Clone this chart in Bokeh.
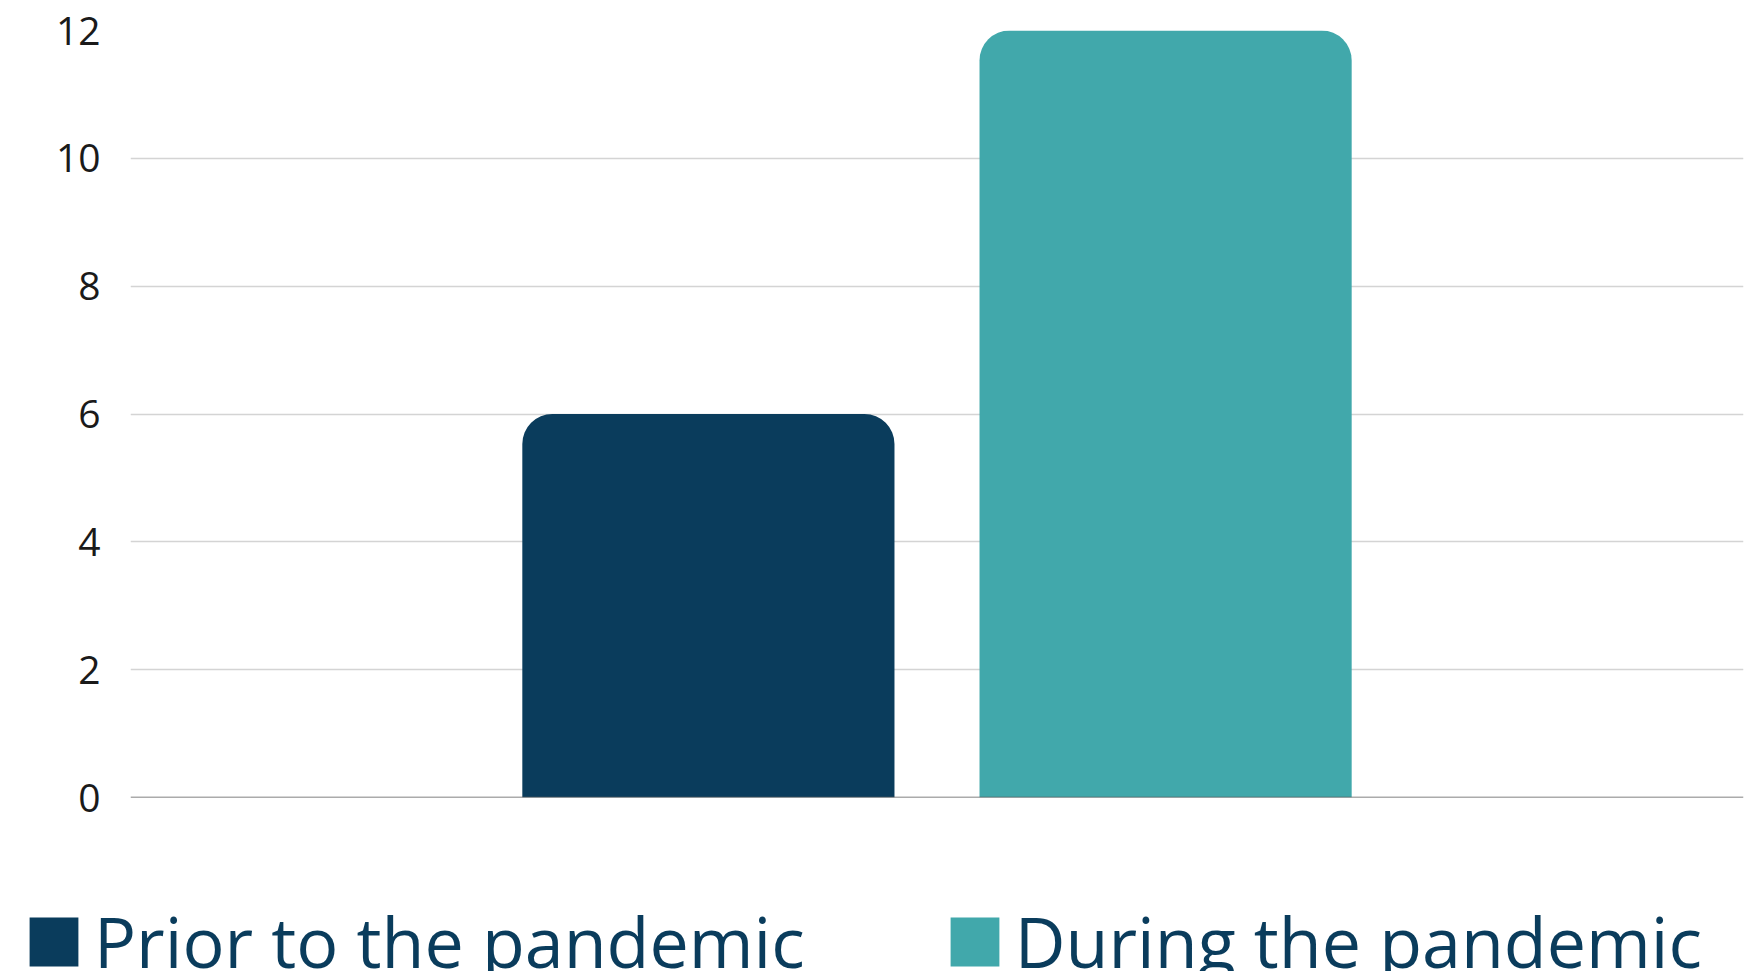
from bokeh.plotting import figure
from bokeh.models import FactorRange, Range1d, ColumnDataSource, Legend, LegendItem, Span, FixedTicker
from bokeh.layouts import column
from bokeh.embed import file_html
from bokeh.resources import INLINE

categories = ["Prior to the pandemic", "During the pandemic"]
values = [6, 12]
colors = ["#0a3c5c", "#41a8ab"]
y_ticks = [0, 2, 4, 6, 8, 10, 12]

src = ColumnDataSource(dict(cat=categories, val=values, color=colors))

W = 1746
p = figure(width=W, height=880, output_backend="svg", toolbar_location=None,
           x_range=FactorRange(*categories, range_padding=0.764, range_padding_units="absolute"),
           y_range=Range1d(0, 12),
           min_border_left=130, min_border_right=3, min_border_top=30, min_border_bottom=83)
p.outline_line_color = None
p.frame_align = False

r = p.vbar(x="cat", top="val", width=0.814, source=src, fill_color="color",
           line_color=None, border_radius=(30, 30, 0, 0))

p.xaxis.visible = False
p.xgrid.grid_line_color = None
p.ygrid.grid_line_color = "#d4d4d4"
p.ygrid.grid_line_width = 1.3

ya = p.yaxis[0]
ya.ticker = FixedTicker(ticks=y_ticks)
ya.axis_line_color = None
ya.major_tick_line_color = None
ya.minor_tick_line_color = None
ya.major_tick_out = 0
ya.major_tick_in = 0
ya.major_label_standoff = 30
ya.major_label_text_font = "Open Sans"
ya.major_label_text_font_size = "39px"
ya.major_label_text_color = "#1a1a1a"

p.add_layout(Span(location=0, dimension="width", line_color="#595959", line_width=1.5))

# legend strip below the chart
p2 = figure(width=W, height=91, output_backend="svg", toolbar_location=None,
            x_range=FactorRange(*categories), y_range=Range1d(100, 101),
            x_axis_type=None, y_axis_type=None,
            min_border_left=0, min_border_right=0, min_border_top=0, min_border_bottom=0)
p2.outline_line_color = None
p2.frame_align = False
p2.grid.visible = False
r2 = p2.vbar(x="cat", top="val", width=0.8, source=src, fill_color="color", line_color=None)

items = [LegendItem(label=c, renderers=[r2], index=i) for i, c in enumerate(categories)]
legend = Legend(items=items, orientation="horizontal", location=(23, -18),
                margin=0, padding=0, border_line_color=None, background_fill_alpha=0,
                glyph_width=61, glyph_height=61, label_height=49, label_standoff=10,
                spacing=139, label_text_font="Open Sans", label_text_font_size="70px",
                label_text_color="#0a3c5c", inactive_fill_alpha=0)
p2.add_layout(legend, "center")

layout = column(p, p2, spacing=0)
open("out.html", "w").write(file_html(layout, INLINE))
